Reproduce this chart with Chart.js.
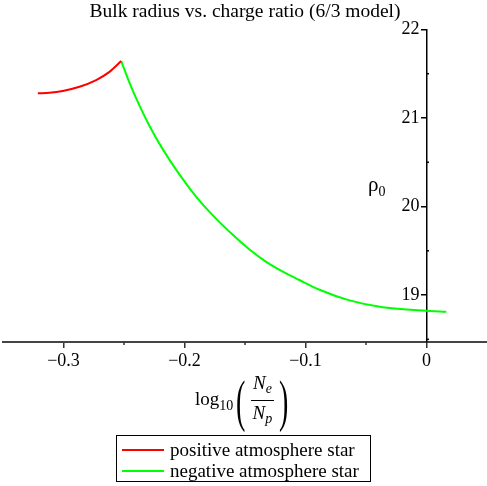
<!DOCTYPE html>
<html><head><meta charset="utf-8">
<script src="https://cdn.jsdelivr.net/npm/chart.js@4"></script>
<style>
html,body{margin:0;padding:0;background:#fff;}
#wrap{position:relative;width:487px;height:486px;overflow:hidden;}
#c{position:absolute;left:0;top:0;}
.serif{font-family:"Liberation Serif","Times New Roman",serif;color:#000;}
#ylab{position:absolute;left:368px;top:174px;font-size:21px;line-height:21px;white-space:nowrap;}
#ylab sub{font-size:14px;vertical-align:-5px;}
#xlab{position:absolute;left:195px;top:371px;display:flex;align-items:center;font-size:19px;white-space:nowrap;}
#xlab .lg sub{font-size:14px;vertical-align:-5px;}
#xlab .paren{font-size:40px;display:inline-block;transform:scale(0.7,1.45);margin:0 1px;line-height:40px;}
#xlab .frac{display:inline-flex;flex-direction:column;align-items:center;margin:0 2px;}
#xlab .frac span{font-style:italic;line-height:23px;padding:0 2px;}
#xlab .frac .num{border-bottom:1px solid #000;}
#xlab .frac sub{font-size:14px;vertical-align:-4px;}
#legend{position:absolute;left:116px;top:435px;width:255px;height:47px;border:1.5px solid #000;box-sizing:border-box;font-size:19px;}
#legend .row{position:absolute;left:0;height:21px;white-space:nowrap;}
#legend .sw{position:absolute;left:5px;top:10px;width:42px;height:2px;}
#legend .tx{position:absolute;left:53px;top:0;line-height:21px;}
</style>
</head><body>
<div id="wrap">
<canvas id="c" width="487" height="486"></canvas>
<div id="ylab" class="serif">ρ<sub>0</sub></div>
<div id="xlab" class="serif"><span class="lg">log<sub>10</sub></span><span class="paren">(</span><span class="frac"><span class="num">N<sub>e</sub></span><span class="den">N<sub>p</sub></span></span><span class="paren">)</span></div>
<div id="legend" class="serif"></div>
</div>
<script>
const titleText = "Bulk radius vs. charge ratio (6/3 model)";
const seriesNames = ["positive atmosphere star", "negative atmosphere star"];
const seriesColors = ["#ff0000", "#00ff00"];

const posX = [-0.3212, -0.3116, -0.3006, -0.2868, -0.2730, -0.2620, -0.2523];
const posY = [21.278, 21.284, 21.305, 21.352, 21.428, 21.520, 21.642];

const negX = [-0.2523, -0.2455, -0.2372, -0.2289, -0.2179, -0.2041, -0.1903, -0.1766, -0.1601, -0.1463, -0.1325, -0.1188, -0.1050, -0.0884, -0.0636, -0.0361, -0.0002, 0.0163];
const negY = [21.642, 21.400, 21.140, 20.910, 20.645, 20.360, 20.110, 19.900, 19.680, 19.515, 19.375, 19.265, 19.170, 19.060, 18.940, 18.862, 18.822, 18.812];

const xTicks = [-0.3, -0.2, -0.1, 0];
const xMinor = [-0.25, -0.15, -0.05];
const yTicks = [19, 20, 21, 22];
const yMinor = [18.5, 19.5, 20.5, 21.5];
const xMin = -0.35, xMax = 0.05, yMin = 18.47, yMax = 22;

const TITLE_FONT = {family: "'Liberation Serif','Times New Roman',serif", size: 19.5, weight: 'normal'};
const TICK_FONT = {family: "'Liberation Serif','Times New Roman',serif", size: 18, weight: 'normal'};

function fmt(v) {
  if (Math.abs(v) < 1e-9) return '0';
  return (v < 0 ? '\u2212' : '') + Math.abs(v).toFixed(1);
}

const minorTicks = {
  id: 'minorTicks',
  afterDraw(chart) {
    const ctx = chart.ctx, sx = chart.scales.x, sy = chart.scales.y;
    const y0 = sy.getPixelForValue(yMin), x0 = sx.getPixelForValue(0);
    ctx.save();
    ctx.strokeStyle = '#333';
    ctx.lineWidth = 1.5;
    xMinor.forEach(v => {
      const px = sx.getPixelForValue(v);
      ctx.beginPath(); ctx.moveTo(px, y0); ctx.lineTo(px, y0 + 3); ctx.stroke();
    });
    ctx.strokeStyle = '#000';
    yMinor.forEach(v => {
      const py = sy.getPixelForValue(v);
      ctx.beginPath(); ctx.moveTo(x0, py); ctx.lineTo(x0 + 2.5, py); ctx.stroke();
    });
    ctx.restore();
  }
};

// shift y tick labels away from the axis line (labels of a value-positioned axis sit right at the tick)
function shiftYLabels(s) {
  if (s._shiftWrapped) return;
  const orig = s._computeLabelItems;
  s._computeLabelItems = function (ca) {
    const items = orig.call(this, ca);
    items.forEach(it => { if (it.options && it.options.translation) it.options.translation[0] -= 7; });
    return items;
  };
  s._shiftWrapped = true;
}

const mk = (xs, ys) => xs.map((x, i) => ({x: x, y: ys[i]}));

const chart = new Chart(document.getElementById('c'), {
  type: 'scatter',
  data: {
    datasets: [
      {label: seriesNames[0], data: mk(posX, posY), showLine: true, borderColor: seriesColors[0], backgroundColor: seriesColors[0], borderWidth: 2, pointRadius: 0, cubicInterpolationMode: 'monotone', fill: false},
      {label: seriesNames[1], data: mk(negX, negY), showLine: true, borderColor: seriesColors[1], backgroundColor: seriesColors[1], borderWidth: 2, pointRadius: 0, cubicInterpolationMode: 'monotone', fill: false}
    ]
  },
  options: {
    responsive: false,
    animation: false,
    layout: {padding: {left: 3, right: 0, top: 0, bottom: 144}},
    plugins: {
      legend: {display: false},
      tooltip: {enabled: false},
      title: {display: true, text: titleText, color: '#000', font: TITLE_FONT, padding: {top: 0, bottom: 6}}
    },
    scales: {
      x: {
        type: 'linear', position: {y: yMin}, min: xMin, max: xMax,
        afterBuildTicks: s => { s.ticks = xTicks.map(v => ({value: v})); },
        ticks: {callback: v => fmt(v), color: '#000', font: TICK_FONT, padding: 3, maxRotation: 0, autoSkip: false},
        grid: {drawOnChartArea: false, tickLength: 5, color: '#333', lineWidth: 1.5},
        border: {color: '#444', width: 2}
      },
      y: {
        type: 'linear', position: {x: 0}, min: yMin, max: yMax,
        afterBuildTicks: s => { s.ticks = yTicks.map(v => ({value: v})); },
        afterUpdate: shiftYLabels,
        ticks: {callback: v => String(v), color: '#000', font: TICK_FONT, padding: 7, autoSkip: false},
        grid: {drawOnChartArea: false, tickLength: 5, color: '#000', lineWidth: 1.5},
        border: {color: '#000', width: 1.5}
      }
    }
  },
  plugins: [minorTicks]
});

// legend built from the datasets
const lg = document.getElementById('legend');
chart.data.datasets.forEach((ds, i) => {
  const row = document.createElement('div');
  row.className = 'row';
  row.style.top = (3 + i * 21) + 'px';
  const sw = document.createElement('div');
  sw.className = 'sw'; sw.style.background = ds.borderColor;
  const tx = document.createElement('div');
  tx.className = 'tx'; tx.textContent = ds.label;
  row.appendChild(sw); row.appendChild(tx);
  lg.appendChild(row);
});
</script>
</body></html>
